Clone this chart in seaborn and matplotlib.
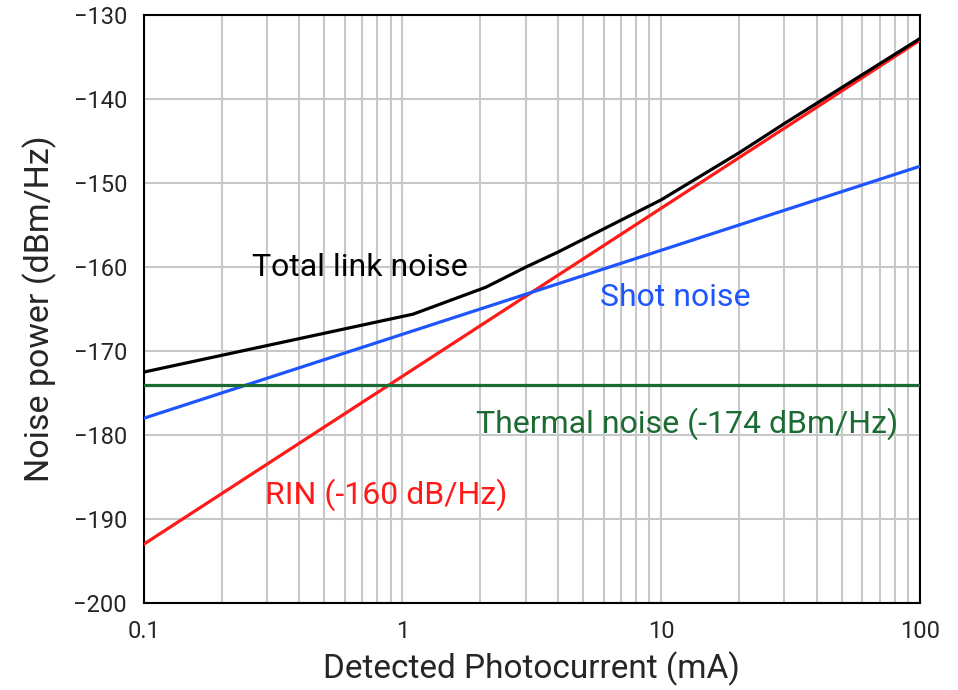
import numpy as np
import pandas as pd
import matplotlib
matplotlib.use("Agg")
import matplotlib.pyplot as plt
from matplotlib.ticker import FixedLocator, LogLocator, NullFormatter
import seaborn as sns

# --- data ---
current_ends = [0.1, 100.0]
rin_noise = [-193.0, -133.0]
shot_noise = [-178.0, -148.0]
thermal_noise = [-174.0, -174.0]

total_current = [0.1, 1.1, 2.1, 3.0, 4.0, 10.0, 20.0, 30.0, 100.0]
total_noise = [-172.5, -165.6, -162.4, -160.0, -158.2, -152.0, -146.4, -142.9, -132.8]

x_ticks = [0.1, 1, 10, 100]
x_tick_labels = ["0.1", "1", "10", "100"]
y_ticks = [-200, -190, -180, -170, -160, -150, -140, -130]

sns.set_style("white")
plt.rcParams["font.family"] = ["Roboto", "DejaVu Sans"]

df_lines = pd.DataFrame({
    "current": current_ends * 3,
    "noise": rin_noise + shot_noise + thermal_noise,
    "kind": ["rin"] * 2 + ["shot"] * 2 + ["thermal"] * 2,
})
df_total = pd.DataFrame({"current": total_current, "noise": total_noise})

colors = {"rin": "#ff1a1a", "shot": "#1f55ff", "thermal": "#1b6b32"}

fig = plt.figure(figsize=(9.58, 6.9), dpi=100)
ax = fig.add_axes([0.15, 0.126, 0.81, 0.852])

sns.lineplot(data=df_lines, x="current", y="noise", hue="kind", palette=colors,
             linewidth=2.3, legend=False, ax=ax, zorder=3)
sns.lineplot(data=df_total, x="current", y="noise", color="black",
             linewidth=2.3, ax=ax, zorder=4)

ax.set_xscale("log")
ax.set_xlim(0.1, 100)
ax.set_ylim(-200, -130)

ax.xaxis.set_major_locator(FixedLocator(x_ticks))
ax.set_xticklabels(x_tick_labels)
ax.xaxis.set_minor_locator(LogLocator(base=10, subs=np.arange(2, 10)))
ax.xaxis.set_minor_formatter(NullFormatter())
ax.set_yticks(y_ticks)
ax.set_yticklabels([str(v).replace("-", "\u2212") for v in y_ticks])

ax.grid(True, which="both", axis="x", color="#c8c8c8", linewidth=1.5)
ax.grid(True, which="major", axis="y", color="#c8c8c8", linewidth=1.5)
ax.set_axisbelow(True)

ax.tick_params(axis="both", which="both", length=0, labelsize=17)
ax.tick_params(axis="y", pad=12)
ax.tick_params(axis="x", pad=12)

for s in ax.spines.values():
    s.set_color("black")
    s.set_linewidth(1.5)

ax.set_xlabel("Detected Photocurrent (mA)", fontsize=24, labelpad=6)
ax.set_ylabel("Noise power (dBm/Hz)", fontsize=24.5, labelpad=12)

ax.text(0.263, -160.0, "Total link noise", fontsize=23, color="black", va="center", ha="left")
ax.text(5.83, -163.6, "Shot noise", fontsize=23, color="#1f55ff", va="center", ha="left")
ax.text(1.93, -178.6, "Thermal noise (-174 dBm/Hz)", fontsize=23, color="#1b6b32", va="center", ha="left")
ax.text(0.294, -187.1, "RIN (-160 dB/Hz)", fontsize=23, color="#ff1a1a", va="center", ha="left")

fig.savefig("out.png", dpi=100)
